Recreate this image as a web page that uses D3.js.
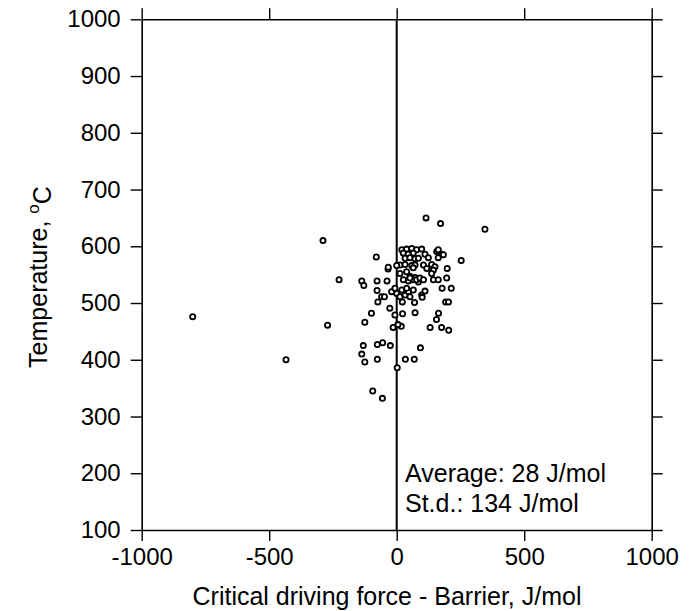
<!DOCTYPE html>
<html>
<head>
<meta charset="utf-8">
<script src="https://cdn.jsdelivr.net/npm/d3@7"></script>
<style>
  body { margin: 0; background: #fff; }
  svg text { font-family: "Liberation Sans", Arial, sans-serif; fill: #000; }
</style>
</head>
<body>
<div id="chart"></div>
<script>
// x = critical driving force - barrier (J/mol), T = temperature (°C)
var pointX = [
  -800, -434, -289, -226, -271, 115, 172, 346, 253, -94, -56, 2,
  -80, -34, 198, -137, -129, -77, -38, -77, -59, -48, -74, -27, -99, -125,
  -131, -76, -55, -25, 93, -137, -125, -76, 34, 69,
  -7, 23, 72, 164, 156, -14, 18, 5, 131, 176, 204,
  178, 214, 98, 100, 22, 70, 192, 203, 111,
  20, 39, 59, 78, 98, 26, 45, 65, 111, 33, 52, 72, 85, 124, 157, 163, 176, 183, 163,
  13, 33, 59, -33, 0, 72, 105, 137, 150,
  65, 118, 144, 137,
  13, 39, 52, 72, 26, 46, 65, 85,
  52, 78, 91, 105, 144, 163, 196,
  -20, -7, 0, 13, 33, 46, 52, 20, 39, 65
];
var pointT = [
  476, 400, 610, 541, 461, 650, 640, 630, 575, 345, 332, 386,
  581, 560, 561, 539, 531, 539, 539, 522, 511, 511, 502, 491, 482, 466,
  425, 427, 430, 425, 421, 410, 396, 401, 401, 401,
  479, 481, 483, 482, 471, 457, 459, 462, 457, 457, 452,
  526, 526, 514, 510, 502, 501, 502, 502, 521,
  594, 595, 596, 594, 595, 588, 586, 588, 586, 579, 580, 578, 579, 580, 591, 594, 586, 585, 580,
  567, 568, 566, 563, 566, 567, 567, 568, 564,
  562, 561, 558, 552,
  552, 555, 547, 545, 541, 539, 541, 537,
  544, 541, 544, 541, 541, 541, 544,
  520, 526, 517, 511, 514, 520, 511, 523, 526, 523
];
var xTicks = [-1000, -500, 0, 500, 1000];
var yTicks = [100, 200, 300, 400, 500, 600, 700, 800, 900, 1000];
var statLines = ["Average: 28 J/mol", "St.d.: 134 J/mol"];

var width = 700, height = 611;
var svg = d3.select("#chart").append("svg")
  .attr("width", width)
  .attr("height", height);

var x = d3.scaleLinear().domain([-1000, 1000]).range([141.7, 651.7]);
var y = d3.scaleLinear().domain([100, 1000]).range([530, 19.3]);

// plain hyphen for negatives, like the original
var plain = function(d) { return String(d); };

function styleAxis(g) {
  g.selectAll("path.domain").attr("stroke", "#000").attr("stroke-width", 1.6);
  g.selectAll(".tick line").attr("stroke", "#000").attr("stroke-width", 1.4);
  g.selectAll(".tick text").style("font-size", "24px");
}

// left axis with labels
svg.append("g")
  .attr("transform", "translate(" + x(-1000) + ",0)")
  .call(d3.axisLeft(y).tickValues(yTicks).tickFormat(plain)
    .tickSize(11).tickSizeOuter(0).tickPadding(10))
  .call(styleAxis);

// right axis, ticks only
svg.append("g")
  .attr("transform", "translate(" + x(1000) + ",0)")
  .call(d3.axisRight(y).tickValues(yTicks).tickFormat("")
    .tickSize(11).tickSizeOuter(0))
  .call(styleAxis);

// bottom axis with labels
svg.append("g")
  .attr("transform", "translate(0," + y(100) + ")")
  .call(d3.axisBottom(x).tickValues(xTicks).tickFormat(plain)
    .tickSize(11).tickSizeOuter(0).tickPadding(7))
  .call(styleAxis);

// top axis, ticks only
svg.append("g")
  .attr("transform", "translate(0," + y(1000) + ")")
  .call(d3.axisTop(x).tickValues(xTicks).tickFormat("")
    .tickSize(11).tickSizeOuter(0))
  .call(styleAxis);

// zero line
svg.append("line")
  .attr("x1", x(0)).attr("x2", x(0))
  .attr("y1", y(100)).attr("y2", y(1000))
  .attr("stroke", "#000")
  .attr("stroke-width", 2);

// points
var pts = pointX.map(function(v, i) { return {x: v, t: pointT[i]}; });
svg.append("g").selectAll("circle")
  .data(pts)
  .join("circle")
  .attr("cx", function(d) { return x(d.x); })
  .attr("cy", function(d) { return y(d.t); })
  .attr("r", 2.6)
  .attr("fill", "#fff")
  .attr("stroke", "#000")
  .attr("stroke-width", 1.8);

// stats text
svg.append("g").selectAll("text")
  .data(statLines)
  .join("text")
  .attr("x", 405)
  .attr("y", function(d, i) { return 482 + i * 30; })
  .style("font-size", "25px")
  .text(function(d) { return d; });

// axis titles
svg.append("text")
  .attr("x", 387)
  .attr("y", 605)
  .attr("text-anchor", "middle")
  .style("font-size", "25px")
  .text("Critical driving force - Barrier, J/mol");

var yt = svg.append("text")
  .attr("transform", "translate(47," + 277 + ") rotate(-90)")
  .attr("text-anchor", "middle")
  .style("font-size", "25px");
yt.append("tspan").text("Temperature, ");
yt.append("tspan").attr("dy", "-0.45em").style("font-size", "17px").text("o");
yt.append("tspan").attr("dy", "0.45em").text("C");
</script>
</body>
</html>
